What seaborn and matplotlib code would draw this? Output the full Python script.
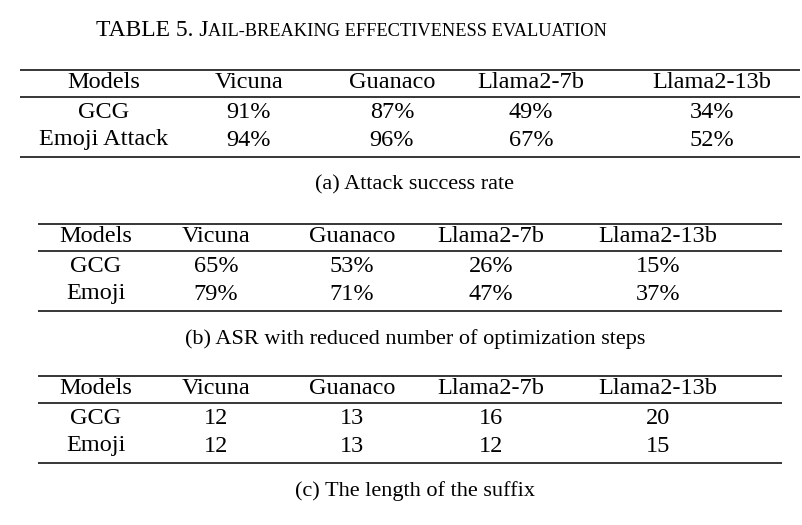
import matplotlib
matplotlib.use("Agg")
import matplotlib.pyplot as plt
import seaborn as sns

# data
models = ["Vicuna", "Guanaco", "Llama2-7b", "Llama2-13b"]
asr_gcg = ["91%", "87%", "49%", "34%"]
asr_emoji = ["94%", "96%", "67%", "52%"]
reduced_gcg = ["65%", "53%", "26%", "15%"]
reduced_emoji = ["79%", "71%", "47%", "37%"]
suffix_gcg = ["12", "13", "16", "20"]
suffix_emoji = ["12", "13", "12", "15"]

sns.set_theme(style="white")
plt.rcParams["font.family"] = ["Liberation Serif", "DejaVu Serif"]
plt.rcParams["text.color"] = "black"

fig = plt.figure(figsize=(8.03, 5.25), dpi=100)
ax = fig.add_axes([0, 0, 1, 1])
ax.set_xlim(0, 803)
ax.set_ylim(525, 0)
ax.axis("off")

FS = 17.5
CAP_FS = 16

# title with fake small caps
t1 = ax.text(96, 31, "TABLE 5. J", fontsize=17, va="center", ha="left", color="black")
fig.canvas.draw()
bb = t1.get_window_extent()
ax.text(96 + bb.width, 32, "AIL-BREAKING EFFECTIVENESS EVALUATION", fontsize=13.2,
        va="center", ha="left", color="black")


def draw_table(x0, x1, top, cols, row_labels, rows, caption):
    hdr, mid, r1, r2, bot = top + 13, top + 27, top + 43, top + 70, top + 87
    ax.hlines([top, mid, bot], x0, x1, color="black", lw=1.1)
    ax.text(cols[0], hdr, "Models", fontsize=FS, ha="center", va="center", color="black")
    for c, m in zip(cols[1:], models):
        ax.text(c, hdr, m, fontsize=FS, ha="center", va="center", color="black")
    for y, lab, vals in zip([r1, r2], row_labels, rows):
        ax.text(cols[0], y, lab, fontsize=FS, ha="center", va="center", color="black")
        for c, v in zip(cols[1:], vals):
            ax.text(c, y, v, fontsize=FS, ha="center", va="center", color="black")
    ax.text(415, bot + 28, caption, fontsize=CAP_FS, ha="center", va="center", color="black")


draw_table(20, 800, 70, [104, 249, 392, 531, 712], ["GCG", "Emoji Attack"],
           [asr_gcg, asr_emoji], "(a) Attack success rate")
draw_table(38, 782, 224, [96, 216, 352, 491, 658], ["GCG", "Emoji"],
           [reduced_gcg, reduced_emoji], "(b) ASR with reduced number of optimization steps")
draw_table(38, 782, 376, [96, 216, 352, 491, 658], ["GCG", "Emoji"],
           [suffix_gcg, suffix_emoji], "(c) The length of the suffix")

fig.savefig("out.png", dpi=100, facecolor="white")
